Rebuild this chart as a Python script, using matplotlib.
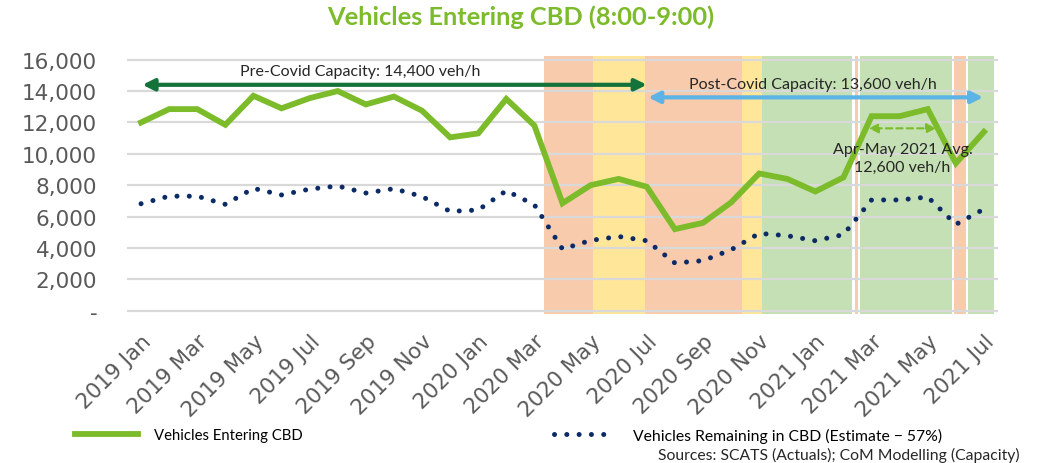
import matplotlib
matplotlib.use("Agg")
import matplotlib.pyplot as plt
from matplotlib import font_manager
from matplotlib.ticker import FixedLocator, FuncFormatter

names = {f.name for f in font_manager.fontManager.ttflist}
NARROW = "Liberation Sans Narrow" if "Liberation Sans Narrow" in names else "Lato"

# ---------------- data ----------------
months = ["2019 Jan", "2019 Feb", "2019 Mar", "2019 Apr", "2019 May", "2019 Jun",
          "2019 Jul", "2019 Aug", "2019 Sep", "2019 Oct", "2019 Nov", "2019 Dec",
          "2020 Jan", "2020 Feb", "2020 Mar", "2020 Apr", "2020 May", "2020 Jun",
          "2020 Jul", "2020 Aug", "2020 Sep", "2020 Oct", "2020 Nov", "2020 Dec",
          "2021 Jan", "2021 Feb", "2021 Mar", "2021 Apr", "2021 May", "2021 Jun",
          "2021 Jul"]
entering = [12000, 12850, 12850, 11850, 13700, 12900, 13550, 14000, 13150, 13650,
            12750, 11050, 11300, 13500, 11800, 6850, 8000, 8400, 7900, 5200,
            5600, 6900, 8750, 8400, 7600, 8500, 12400, 12400, 12850, 9400, 11400]
remaining = [6820, 7300, 7300, 6780, 7800, 7380, 7750, 7950, 7500, 7780, 7280,
             6330, 6420, 7650, 6750, 3930, 4480, 4730, 4460, 3040, 3190, 3880,
             4930, 4780, 4460, 4850, 7060, 7060, 7250, 5500, 6480]
yticks = [0, 2000, 4000, 6000, 8000, 10000, 12000, 14000, 16000]

# restriction periods (month index start, end, level)
band_start = [14.33, 16.07, 17.92, 21.40, 22.11, 25.40, 25.60, 28.92, 29.43]
band_end = [16.07, 17.92, 21.40, 22.11, 25.31, 25.51, 28.87, 29.36, 30.36]
band_level = ["lockdown", "eased", "lockdown", "eased", "open", "lockdown",
              "open", "lockdown", "open"]

pre_cap = 14400
post_cap = 13600
avg_arrow_y = 11625
pre_span = (0.05, 18.0)
post_span = (18.05, 29.97)
avg_span = (25.9, 28.3)
avg_label = "Apr-May 2021 Avg.\n12,600 veh/h"

# ---------------- style ----------------
GREEN = "#7CBB2A"
NAVY = "#0B2A66"
DKGREEN = "#13733B"
LBLUE = "#5CB3E6"
GRID = "#D9D9D9"
TXT = "#595959"
band_colors = {"lockdown": "#F8CBAD", "eased": "#FFE699", "open": "#C5E0B4"}

fig = plt.figure(figsize=(10.43, 4.64), dpi=100)
ax = fig.add_axes([127 / 1043, 1 - 315 / 464, (998 - 127) / 1043, (315 - 57) / 464])

x = list(range(len(months)))
ax.set_xlim(-0.5, 30.5)
ax.set_ylim(-210, 16236)

for s, e, lvl in zip(band_start, band_end, band_level):
    ax.axvspan(s, e, ymin=0, ymax=1, color=band_colors[lvl], lw=0, zorder=0)

for yv in yticks:
    ax.axhline(yv, color=GRID, lw=1.6, zorder=0.5)

l1, = ax.plot(x, entering, color=GREEN, lw=4.2, solid_joinstyle="miter",
              zorder=3, label="Vehicles Entering CBD")
l2, = ax.plot(x, remaining, color=NAVY, lw=3.6, linestyle=(0, (0.01, 2.45)),
              dash_capstyle="round", zorder=3,
              label="Vehicles Remaining in CBD (Estimate \u2212 57%)")

for sp in ax.spines.values():
    sp.set_visible(False)

ax.yaxis.set_major_locator(FixedLocator(yticks))
ax.yaxis.set_major_formatter(FuncFormatter(lambda v, p: "-" if v == 0 else f"{int(v):,}"))
ax.set_xticks(x[::2])
ax.set_xticklabels(months[::2], rotation=45, ha="right", rotation_mode="anchor")
ax.tick_params(axis="y", length=0, pad=21.5, labelsize=15.5, labelcolor=TXT)
ax.tick_params(axis="x", length=0, pad=12, labelsize=15.5, labelcolor=TXT)

# capacity arrows
ax.annotate("", xy=(pre_span[0], pre_cap), xytext=(pre_span[1], pre_cap),
            arrowprops=dict(arrowstyle="<|-|>", color=DKGREEN, lw=3,
                            mutation_scale=17, shrinkA=0, shrinkB=0), zorder=4)
ax.text(7.8, pre_cap + 420, f"Pre-Covid Capacity: {pre_cap:,} veh/h",
        ha="center", va="bottom", fontsize=11.5, family=NARROW, color="#262626")
ax.annotate("", xy=(post_span[0], post_cap), xytext=(post_span[1], post_cap),
            arrowprops=dict(arrowstyle="<|-|>", color=LBLUE, lw=3,
                            mutation_scale=17, shrinkA=0, shrinkB=0), zorder=4)
ax.text(23.9, post_cap + 380, f"Post-Covid Capacity: {post_cap:,} veh/h",
        ha="center", va="bottom", fontsize=11.5, family=NARROW, color="#262626")
ax.annotate("", xy=(avg_span[0], avg_arrow_y), xytext=(avg_span[1], avg_arrow_y),
            arrowprops=dict(arrowstyle="<|-|>", color=GREEN, lw=1.5, ls=(0, (3, 2)),
                            mutation_scale=14, shrinkA=0, shrinkB=0), zorder=4)
ax.text(27.1, 9750, avg_label, ha="center", va="center", fontsize=11.5,
        family=NARROW, color="#262626", linespacing=1.3, zorder=5)

fig.text(521 / 1043, 1 - 17 / 464, "Vehicles Entering CBD (8:00-9:00)", ha="center",
         va="center", fontsize=18.3, fontweight="bold", color=GREEN, family=NARROW)

fig.legend(handles=[l1], loc="center left", bbox_to_anchor=(62 / 1043, 1 - 436 / 464),
           frameon=False, handlelength=4.2, handletextpad=1.1,
           prop=dict(family=NARROW, size=10.7))
fig.legend(handles=[l2], loc="center left", bbox_to_anchor=(540 / 1043, 1 - 436 / 464),
           frameon=False, handlelength=3.3, handletextpad=1.75,
           prop=dict(family=NARROW, size=11.3))
fig.text(1020 / 1043, 1 - 455 / 464, "Sources: SCATS (Actuals); CoM Modelling (Capacity)",
         ha="right", va="center", fontsize=11.3, family=NARROW, color="#262626")

fig.savefig("out.png", dpi=100)
